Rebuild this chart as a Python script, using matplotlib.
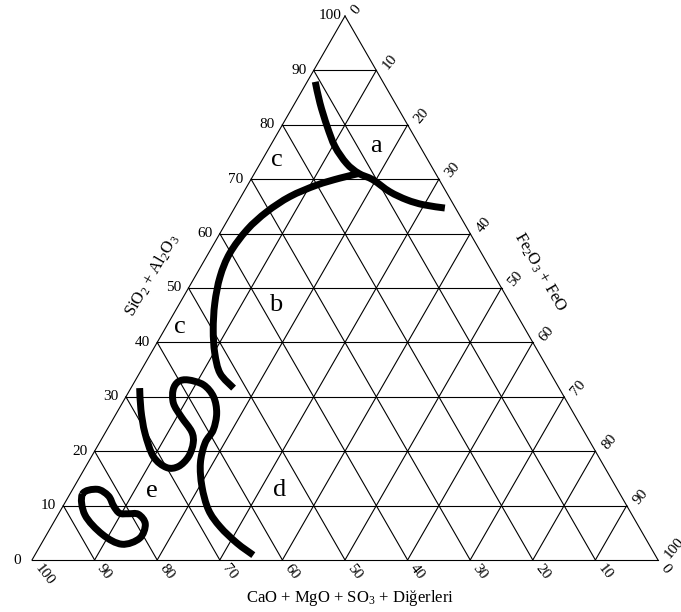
import numpy as np
import matplotlib
matplotlib.use("Agg")
import matplotlib.pyplot as plt
from matplotlib.path import Path
from matplotlib.patches import PathPatch

plt.rcParams["font.family"] = ["Liberation Serif", "DejaVu Serif"]
plt.rcParams["mathtext.fontset"] = "custom"
plt.rcParams["mathtext.rm"] = "Liberation Serif"
plt.rcParams["mathtext.it"] = "Liberation Serif:italic"

# eksen değerleri (%)
ticks = list(range(0, 101, 10))

# bölge sınırları: (SiO2+Al2O3 %, Fe2O3+FeO %)
sinir_a_si = [87.9, 84.0, 79.7, 76.0, 72.9, 71.1, 69.9, 67.7, 66.2, 65.3, 64.7]
sinir_a_fe = [1.3, 4.0, 7.3, 10.4, 13.8, 16.6, 19.5, 23.3, 26.8, 29.9, 33.6]

sinir_b_si = [71.1, 70.2, 68.9, 66.8, 64.0, 60.7, 56.4, 52.1, 47.2, 42.3, 38.0, 34.3, 31.6]
sinir_b_fe = [16.9, 14.1, 11.0, 7.8, 5.5, 4.0, 3.4, 4.0, 5.6, 7.8, 10.2, 12.9, 16.4]

sinir_s_si = [31.6, 27.6, 23.3, 19.0, 17.0, 17.2, 19.0, 21.5, 23.6, 26.3, 28.8, 31.3, 32.8,
              33.1, 32.2, 30.0, 27.0, 23.9, 21.5, 17.8, 13.5, 9.2, 6.1, 3.1, 0.9]
sinir_s_fe = [1.4, 3.6, 6.4, 9.9, 13.0, 14.8, 15.5, 15.0, 13.7, 10.7, 8.2, 6.9, 7.0,
              8.4, 11.3, 14.0, 16.0, 17.0, 16.9, 18.0, 20.4, 23.6, 27.0, 31.2, 34.9]

# kapalı bölge (e içindeki halka)
halka_si = [12.1, 13.0, 11.8, 9.9, 8.6, 8.5, 8.4, 6.6, 4.0, 2.9, 4.7, 8.3]
halka_fe = [2.0, 3.9, 6.3, 8.1, 9.7, 11.1, 12.8, 14.8, 15.2, 12.9, 8.9, 4.3]

# bölge harfleri
harfler = ["a", "c", "b", "c", "d", "e"]
harf_si = [76.1, 73.5, 46.9, 42.9, 12.9, 12.6]
harf_fe = [16.9, 2.4, 15.5, 2.2, 33.1, 12.8]

H = np.sqrt(3) / 2


def tern(si, fe):
    """(SiO2, Fe2O3) yüzdesini üçgen içi x, y koordinatına çevirir"""
    si = np.asarray(si, dtype=float) / 100
    fe = np.asarray(fe, dtype=float) / 100
    return fe + si / 2, si * H


def smooth_path(x, y, closed=False):
    """noktalardan geçen yumuşak (Catmull-Rom -> Bezier) yol"""
    p = np.column_stack([x, y])
    n = len(p)
    if closed:
        get = lambda i: p[i % n]
        nseg = n
    else:
        get = lambda i: p[min(max(i, 0), n - 1)]
        nseg = n - 1
    verts = [p[0]]
    codes = [Path.MOVETO]
    for i in range(nseg):
        p0, p1, p2, p3 = get(i - 1), get(i), get(i + 1), get(i + 2)
        verts += [p1 + (p2 - p0) / 6, p2 - (p3 - p1) / 6, p2]
        codes += [Path.CURVE4] * 3
    return Path(verts, codes)


fig = plt.figure(figsize=(6.81, 6.12), dpi=100)
ax = fig.add_axes([32 / 681, 52 / 612, 626 / 681, 544 / 612])
ax.set_xlim(0, 1)
ax.set_ylim(0, H)
ax.axis("off")

# ızgara + kenarlar
grid_kw = dict(color="black", linewidth=0.8, clip_on=False)
for t in ticks[:-1]:
    # SiO2 sabit (yatay)
    x, y = tern([t, t], [0, 100 - t])
    ax.plot(x, y, **grid_kw)
    # Fe2O3 sabit
    x, y = tern([0, 100 - t], [t, t])
    ax.plot(x, y, **grid_kw)
    # CaO sabit
    x, y = tern([0, 100 - t], [100 - t, 0])
    ax.plot(x, y, **grid_kw)

# sınır eğrileri
for si, fe, kapali in [(sinir_a_si, sinir_a_fe, False), (sinir_b_si, sinir_b_fe, False),
                       (sinir_s_si, sinir_s_fe, False), (halka_si, halka_fe, True)]:
    x, y = tern(si, fe)
    ax.add_patch(PathPatch(smooth_path(x, y, kapali), fill=False, edgecolor="black",
                           linewidth=5, capstyle="butt", joinstyle="round",
                           clip_on=False))

# bölge harfleri
for h, si, fe in zip(harfler, harf_si, harf_fe):
    x, y = tern(si, fe)
    ax.text(x, y, h, fontsize=19, ha="center", va="center")

# eksen etiketleri
for t in ticks:
    # sol: SiO2 + Al2O3
    x, y = tern(t, 0)
    ax.annotate(str(t), (x, y), xytext=(-15, 0), textcoords="offset pixels",
                ha="center", va="center", fontsize=11)
    # sağ: Fe2O3 + FeO
    x, y = tern(100 - t, t)
    ax.annotate(str(t), (x, y), xytext=(9, 3), textcoords="offset pixels",
                ha="left", va="center", rotation=50, rotation_mode="anchor",
                fontsize=11)
    # alt: CaO + MgO + SO3 + Diğerleri
    x, y = tern(0, 100 - t)
    ax.annotate(str(t), (x, y), xytext=(5, -6), textcoords="offset pixels",
                ha="left", va="center", rotation=-52, rotation_mode="anchor",
                fontsize=11)

fig.text(350 / 681, 1 - 598 / 612, r"CaO + MgO + SO$_3$ + Diğerleri",
         ha="center", va="center", fontsize=12)
fig.text(152 / 681, 1 - 275 / 612, r"SiO$_2$ + Al$_2$O$_3$",
         ha="center", va="center", rotation=60, rotation_mode="anchor", fontsize=12)
fig.text(540 / 681, 1 - 272 / 612, r"Fe$_2$O$_3$ + FeO",
         ha="center", va="center", rotation=-60, rotation_mode="anchor", fontsize=12)

fig.savefig("out.png", dpi=100, facecolor="white")
